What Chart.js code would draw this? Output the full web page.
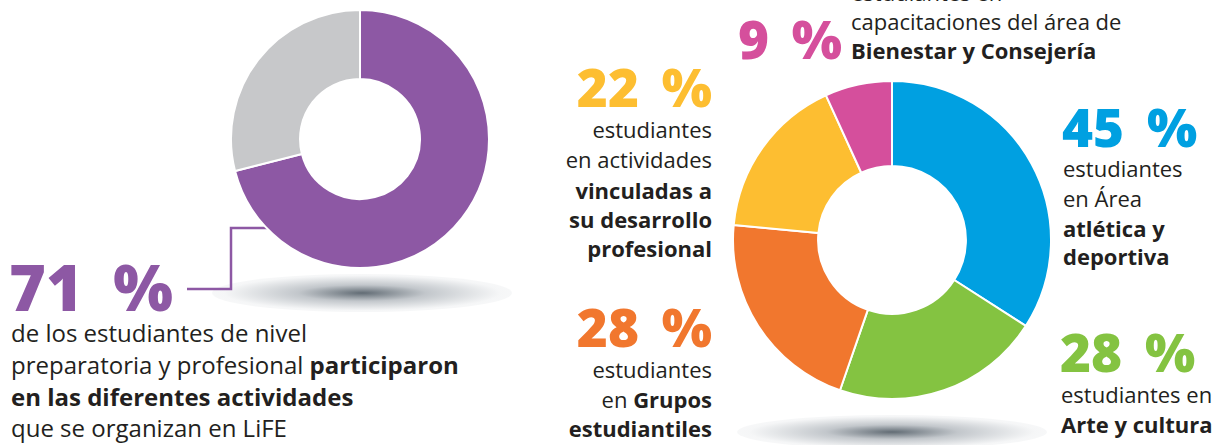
<!DOCTYPE html>
<html>
<head>
<meta charset="utf-8">
<script src="https://cdn.jsdelivr.net/npm/chart.js@4.4.1/dist/chart.umd.min.js"></script>
<style>
  html, body { margin:0; padding:0; background:#ffffff; }
  body { width:1224px; height:445px; position:relative; overflow:hidden; font-family:"Open Sans","Noto Sans",sans-serif; color:#231f20; }
  canvas { position:absolute; }
  .ln { position:absolute; white-space:nowrap; }
  .shadow { position:absolute; border-radius:50%; }
  b { font-weight:700; }
</style>
</head>
<body>
<div class="shadow" id="shL"></div>
<div class="shadow" id="shR"></div>
<svg id="conn" width="1224" height="445" style="position:absolute;left:0;top:0"></svg>
<canvas id="cL" width="260" height="260"></canvas>
<canvas id="cR" width="320" height="320"></canvas>
<div id="texts"></div>
<script>
// ---- data ----
const leftCategories = ['Participaron', 'No participaron'];
const leftValues = [71, 29];
const leftColors = ['#8d58a4', '#c7c8ca'];

const rightCategories = ['Área atlética y deportiva', 'Arte y cultura', 'Grupos estudiantiles', 'Desarrollo profesional', 'Bienestar y Consejería'];
const rightValues = [45, 28, 28, 22, 9];
const rightColors = ['#00a0e1', '#84c341', '#f1772e', '#fdbe31', '#d54f9c'];

// ---- layout ----
const LC = {x:360, y:139, r:129};
const RC = {x:892, y:240, r:159};

function placeCanvas(id, c) {
  const el = document.getElementById(id);
  const s = 2 * c.r + 2;
  el.width = s; el.height = s;
  el.style.width = s + 'px'; el.style.height = s + 'px';
  el.style.left = (c.x - s / 2) + 'px';
  el.style.top = (c.y - s / 2) + 'px';
}
placeCanvas('cL', LC);
placeCanvas('cR', RC);

function shadow(id, cx, cy, w, h) {
  const el = document.getElementById(id);
  el.style.left = (cx - w / 2) + 'px'; el.style.top = (cy - h / 2) + 'px';
  el.style.width = w + 'px'; el.style.height = h + 'px';
  el.style.background = 'radial-gradient(ellipse at center, rgba(70,82,92,0.85) 0%, rgba(120,130,140,0.45) 30%, rgba(190,196,202,0.15) 65%, rgba(255,255,255,0) 100%)';
}
shadow('shL', 362, 293, 300, 38);
shadow('shR', 892, 432, 310, 34);

// connector line
document.getElementById('conn').innerHTML =
  '<polyline points="268,228 231,228 231,289 187,289" fill="none" stroke="#8d58a4" stroke-width="2.5"/>';

const common = {
  type: 'doughnut',
  options: {
    responsive: false,
    animation: false,
    cutout: '46.5%',
    layout: { padding: 0 },
    plugins: { legend: { display: false }, tooltip: { enabled: false } },
    events: []
  }
};
new Chart(document.getElementById('cL'), Object.assign({}, common, {
  data: { labels: leftCategories, datasets: [{ data: leftValues, backgroundColor: leftColors, borderColor: '#ffffff', borderWidth: 2 }] }
}));
new Chart(document.getElementById('cR'), Object.assign({}, common, {
  data: { labels: rightCategories, datasets: [{ data: rightValues, backgroundColor: rightColors, borderColor: '#ffffff', borderWidth: 2 }] }
}));

// ---- text ----
const mctx = document.createElement('canvas').getContext('2d');
const FONT = '"Open Sans", "Noto Sans", sans-serif';
function line(html, x, base, size, opts) {
  opts = opts || {};
  const weight = opts.weight || 400;
  mctx.font = weight + ' ' + size + 'px ' + FONT;
  const m = mctx.measureText('Hg');
  const A = m.fontBoundingBoxAscent, D = m.fontBoundingBoxDescent;
  const off = (size + A - D) / 2;
  const d = document.createElement('div');
  d.className = 'ln';
  d.innerHTML = html;
  d.style.fontSize = size + 'px';
  d.style.lineHeight = size + 'px';
  d.style.fontWeight = weight;
  d.style.color = opts.color || '#231f20';
  d.style.top = (base - off) + 'px';
  if (opts.ws !== undefined) d.style.wordSpacing = opts.ws + 'px';
  if (opts.align === 'right') { d.style.right = (1224 - x) + 'px'; d.style.textAlign = 'right'; }
  else d.style.left = x + 'px';
  document.getElementById('texts').appendChild(d);
}
const pct = v => v + ' %';
const BIG = 63, MID = 53, TXT = 22, TXTL = 24;

// left block
line(pct(leftValues[0]), 9, 311, BIG, { weight: 800, color: leftColors[0], ws: 14 });
line('de los estudiantes de nivel', 11, 342, TXTL);
line('preparatoria y profesional <b>participaron</b>', 11, 374, TXTL);
line('<b>en las diferentes actividades</b>', 11, 406, TXTL);
line('que se organizan en LiFE', 11, 437, TXTL);

// pink (top)
line('estudiantes en', 851, 1, TXT);
line('capacitaciones del área de', 851, 30, TXT);
line('<b>Bienestar y Consejería</b>', 851, 59, TXT);
line(pct(rightValues[4]), 738, 59, MID, { weight: 800, color: rightColors[4], ws: 9 });

// yellow
line(pct(rightValues[3]), 712, 107, MID, { weight: 800, color: rightColors[3], align: 'right', ws: 9 });
line('estudiantes', 712, 138, TXT, { align: 'right' });
line('en actividades', 712, 168, TXT, { align: 'right' });
line('<b>vinculadas a</b>', 712, 199, TXT, { align: 'right' });
line('<b>su desarrollo</b>', 712, 228, TXT, { align: 'right' });
line('<b>profesional</b>', 712, 257, TXT, { align: 'right' });

// orange
line(pct(rightValues[2]), 712, 347, MID, { weight: 800, color: rightColors[2], align: 'right', ws: 9 });
line('estudiantes', 712, 378, TXT, { align: 'right' });
line('en <b>Grupos</b>', 712, 408, TXT, { align: 'right' });
line('<b>estudiantiles</b>', 712, 437, TXT, { align: 'right' });

// blue
line(pct(rightValues[0]), 1062, 147, MID, { weight: 800, color: rightColors[0], ws: 9 });
line('estudiantes', 1063, 177, TXT);
line('en Área', 1063, 207, TXT);
line('<b>atlética y</b>', 1063, 237, TXT);
line('<b>deportiva</b>', 1063, 265, TXT);

// green
line(pct(rightValues[1]), 1060, 372, MID, { weight: 800, color: rightColors[1], ws: 9 });
line('estudiantes en', 1061, 403, TXT);
line('<b>Arte y cultura</b>', 1061, 433, TXT);
</script>
</body>
</html>
